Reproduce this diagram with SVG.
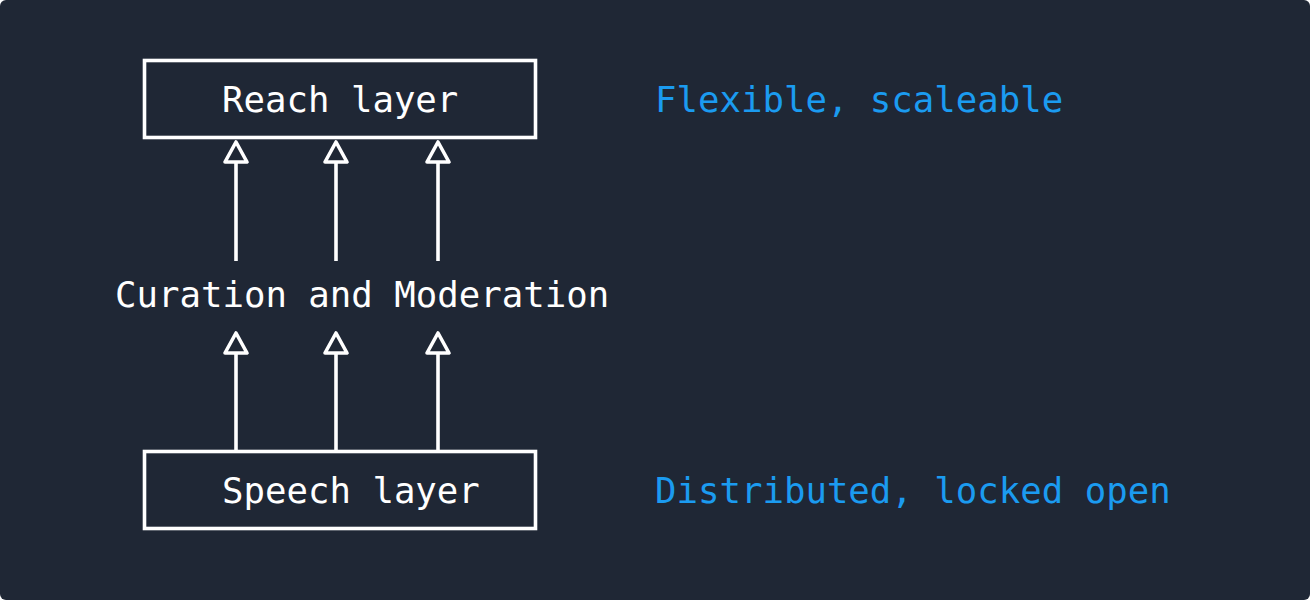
<svg xmlns="http://www.w3.org/2000/svg" width="1310" height="600" viewBox="0 0 1310 600">
<style>
.box{fill:none;stroke:#ffffff;stroke-width:3.6}
.t{font-family:"DejaVu Sans Mono","Liberation Mono",monospace;font-size:35.7px;fill:#ffffff}
.b{fill:#1b9bf0}
.c{stroke:#ffffff;stroke-width:3.6;fill:none;marker-end:url(#tri)}
</style>
<defs>
<marker id="tri" markerUnits="userSpaceOnUse" viewBox="-4 -16 30 32" markerWidth="30" markerHeight="32" refX="20" refY="0" orient="auto">
<path d="M0,-11 L20,0 L0,11 Z" fill="#1f2735" stroke="#ffffff" stroke-width="3.6" stroke-linejoin="round"/>
</marker>
</defs>
<rect x="0" y="0" width="1310" height="600" rx="6" fill="#1f2735"/>
<g id="reach">
<rect class="box" x="144.5" y="60.5" width="391" height="77"/>
<text class="t" x="222" y="112">Reach layer</text>
</g>
<g id="curation">
<text class="t" x="115" y="307">Curation and Moderation</text>
</g>
<g id="speech">
<rect class="box" x="144.5" y="451.5" width="391" height="77"/>
<text class="t" x="222" y="503">Speech layer</text>
</g>
<g id="label-reach">
<text class="t b" x="655" y="112">Flexible, scaleable</text>
</g>
<g id="label-speech">
<text class="t b" x="655" y="503">Distributed, locked open</text>
</g>
<g id="connectors">
<line class="c" x1="236" y1="261" x2="236" y2="142"/>
<line class="c" x1="336" y1="261" x2="336" y2="142"/>
<line class="c" x1="438" y1="261" x2="438" y2="142"/>
<line class="c" x1="236" y1="451" x2="236" y2="333"/>
<line class="c" x1="336" y1="451" x2="336" y2="333"/>
<line class="c" x1="438" y1="451" x2="438" y2="333"/>
</g>
</svg>
